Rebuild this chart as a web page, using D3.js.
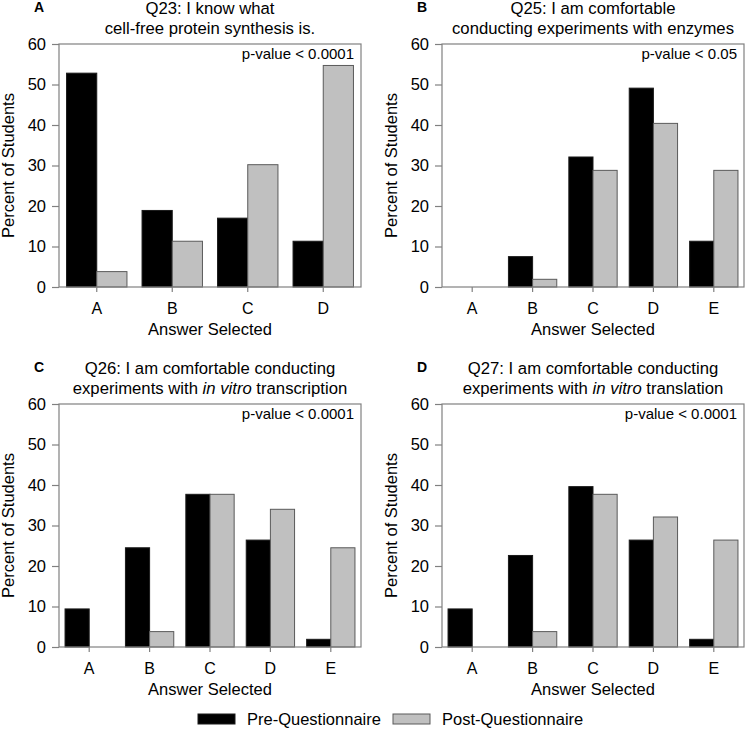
<!DOCTYPE html>
<html>
<head>
<meta charset="utf-8">
<script src="https://cdn.jsdelivr.net/npm/d3@7"></script>
<style>
  html, body { margin: 0; padding: 0; background: #fff; }
  svg { display: block; }
  text { font-family: "Liberation Sans", Arial, sans-serif; fill: #000; }
</style>
</head>
<body>
<svg id="chart" width="746" height="731"></svg>
<script>
// ---- data ----
const answers4 = ["A", "B", "C", "D"];
const answers5 = ["A", "B", "C", "D", "E"];
const yTicks = [0, 10, 20, 30, 40, 50, 60];

const q23Pre  = [52.8, 18.9, 17.0, 11.3];
const q23Post = [3.8, 11.3, 30.2, 54.7];

const q25Pre  = [0, 7.5, 32.1, 49.1, 11.3];
const q25Post = [0, 1.9, 28.8, 40.4, 28.8];

const q26Pre  = [9.4, 24.5, 37.7, 26.4, 1.9];
const q26Post = [0, 3.8, 37.7, 34.0, 24.5];

const q27Pre  = [9.4, 22.6, 39.6, 26.4, 1.9];
const q27Post = [0, 3.8, 37.7, 32.1, 26.4];

const seriesNames = ["Pre-Questionnaire", "Post-Questionnaire"];
const seriesColors = ["#000000", "#c0c0c0"];
const seriesStrokes = ["#1a1a1a", "#5a5a5a"];

const panels = [
  { letter: "A", title: [[["Q23: I know what", false]], [["cell-free protein synthesis is.", false]]],
    cats: answers4, pre: q23Pre, post: q23Post, p: "p-value < 0.0001", x: 59, y: 44 },
  { letter: "B", title: [[["Q25: I am comfortable", false]], [["conducting experiments with enzymes", false]]],
    cats: answers5, pre: q25Pre, post: q25Post, p: "p-value < 0.05", x: 442, y: 44 },
  { letter: "C", title: [[["Q26: I am comfortable conducting", false]], [["experiments with ", false], ["in vitro", true], [" transcription", false]]],
    cats: answers5, pre: q26Pre, post: q26Post, p: "p-value < 0.0001", x: 59, y: 404 },
  { letter: "D", title: [[["Q27: I am comfortable conducting", false]], [["experiments with ", false], ["in vitro", true], [" translation", false]]],
    cats: answers5, pre: q27Pre, post: q27Post, p: "p-value < 0.0001", x: 442, y: 404 }
];

const W = 302, H = 243;
const frameColor = "#808080";
const svg = d3.select("#chart");

panels.forEach(pn => {
  const g = svg.append("g").attr("transform", `translate(${pn.x},${pn.y})`);
  const x = d3.scaleBand().domain(pn.cats).range([0, W]).paddingInner(0.2).paddingOuter(0.1);
  const xs = d3.scaleBand().domain([0, 1]).range([0, x.bandwidth()]);
  const y = d3.scaleLinear().domain([0, 60]).range([H, 0]);

  // bars
  const groups = g.selectAll("g.grp").data(pn.cats).join("g")
    .attr("transform", d => `translate(${x(d)},0)`);
  groups.selectAll("rect").data((d, i) => [pn.pre[i], pn.post[i]]).join("rect")
    .attr("x", (d, j) => xs(j))
    .attr("width", xs.bandwidth())
    .attr("y", d => y(d))
    .attr("height", d => H - y(d))
    .attr("fill", (d, j) => seriesColors[j])
    .attr("stroke", (d, j) => seriesStrokes[j])
    .attr("stroke-width", 1)
    .attr("display", d => d === 0 ? "none" : null);

  // frame
  g.append("rect").attr("x", 0).attr("y", 0).attr("width", W).attr("height", H)
    .attr("fill", "none").attr("stroke", frameColor).attr("stroke-width", 1.2);

  // y axis
  const ya = g.append("g").call(d3.axisLeft(y).tickValues(yTicks).tickSize(7).tickPadding(6));
  ya.select(".domain").remove();
  ya.selectAll("line").attr("stroke", frameColor).attr("stroke-width", 1.2);
  ya.selectAll("text").style("font-size", "16.5px").attr("fill", "#000")
    .style("font-family", "'Liberation Sans', Arial, sans-serif");

  // x axis
  const xa = g.append("g").attr("transform", `translate(0,${H})`)
    .call(d3.axisBottom(x).tickSize(5).tickPadding(11));
  xa.select(".domain").remove();
  xa.selectAll("line").attr("stroke", frameColor).attr("stroke-width", 1.2);
  xa.selectAll("text").style("font-size", "16px").attr("fill", "#000")
    .style("font-family", "'Liberation Sans', Arial, sans-serif");

  // axis titles
  g.append("text").attr("x", W / 2).attr("y", H + 48).attr("text-anchor", "middle")
    .style("font-size", "16.5px").text("Answer Selected");
  g.append("text").attr("transform", `translate(-45,${H / 2}) rotate(-90)`)
    .attr("text-anchor", "middle").style("font-size", "16.5px").text("Percent of Students");

  // p-value
  g.append("text").attr("x", W - 7).attr("y", 15).attr("text-anchor", "end")
    .style("font-size", "15px").text(pn.p);

  // title
  pn.title.forEach((line, li) => {
    const t = g.append("text").attr("x", W / 2).attr("y", li === 0 ? -30 : -10)
      .attr("text-anchor", "middle").style("font-size", "16.7px");
    line.forEach(([s, it]) => t.append("tspan").style("font-style", it ? "italic" : "normal").text(s));
  });

  // panel letter
  g.append("text").attr("x", -20).attr("y", -32).attr("text-anchor", "middle")
    .style("font-size", "14px").style("font-weight", "bold").text(pn.letter);
});

// legend
const legend = svg.append("g");
const legendItems = [
  { name: seriesNames[0], color: seriesColors[0], stroke: seriesStrokes[0], x: 198 },
  { name: seriesNames[1], color: seriesColors[1], stroke: seriesStrokes[1], x: 393 }
];
legendItems.forEach(it => {
  legend.append("rect").attr("x", it.x).attr("y", 714).attr("width", 37).attr("height", 10)
    .attr("fill", it.color).attr("stroke", it.stroke);
  legend.append("text").attr("x", it.x + 49).attr("y", 725).style("font-size", "16.5px").text(it.name);
});
</script>
</body>
</html>
